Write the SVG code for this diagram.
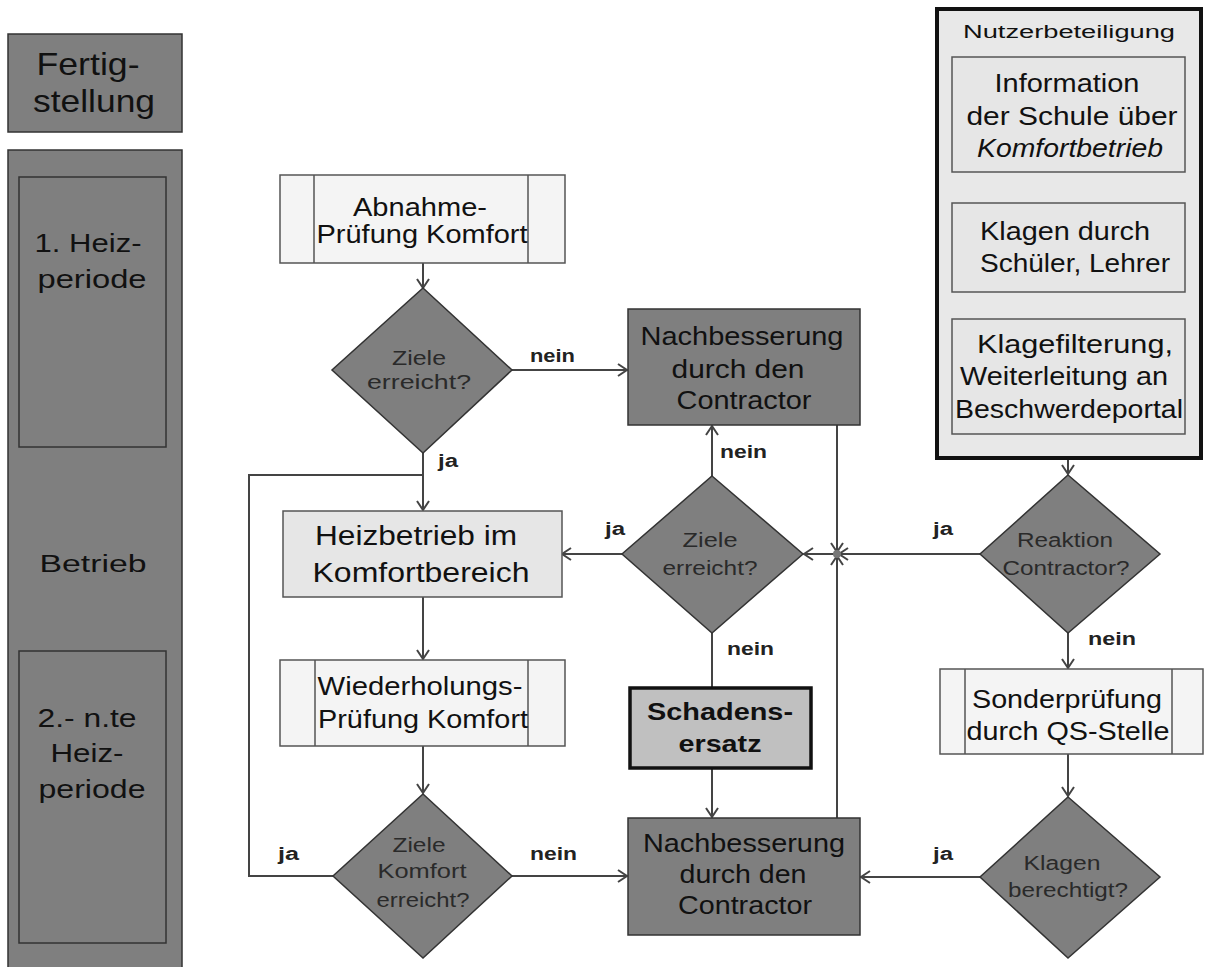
<svg xmlns="http://www.w3.org/2000/svg" width="1206" height="967" viewBox="0 0 1206 967">
<defs>
<style>
text{font-family:"Liberation Sans",Arial,sans-serif;fill:#111;text-anchor:middle}
.dk{fill:#7f7f7f;stroke:#333;stroke-width:1.5}
.lt{fill:#f4f4f4;stroke:#555;stroke-width:1.5}
.lg{fill:#e6e6e6;stroke:#555;stroke-width:1.5}
.ln{fill:none;stroke:#444;stroke-width:2}
.sep{stroke:#555;stroke-width:1.5}
.t26{font-size:26px}
.t25{font-size:25px}
.dt{font-size:20px;fill:#2a2a2a}
.lab{font-size:18px;font-weight:bold;fill:#222;text-anchor:start}
</style>
<marker id="ah" markerWidth="14" markerHeight="14" refX="11" refY="7" orient="auto" markerUnits="userSpaceOnUse">
<path d="M2,1 L11,7 L2,13" fill="none" stroke="#444" stroke-width="2"/>
</marker>
</defs>
<rect width="1206" height="967" fill="#fff"/>

<g id="fertigstellung">
<rect x="8" y="34" width="174" height="98" class="dk"/>
<text x="88" y="75" font-size="32" textLength="103" lengthAdjust="spacingAndGlyphs">Fertig-</text>
<text x="94" y="112" font-size="32" textLength="122" lengthAdjust="spacingAndGlyphs">stellung</text>
</g>
<g id="betrieb">
<rect x="8" y="150" width="174" height="830" class="dk"/>
<rect x="19" y="177" width="147" height="270" fill="none" stroke="#333" stroke-width="1.5"/>
<text x="88" y="252" font-size="26" textLength="107" lengthAdjust="spacingAndGlyphs">1. Heiz-</text>
<text x="92" y="288" font-size="26" textLength="109" lengthAdjust="spacingAndGlyphs">periode</text>
<text x="93" y="572" font-size="23" fill="#222" textLength="107" lengthAdjust="spacingAndGlyphs">Betrieb</text>
<rect x="19" y="651" width="147" height="292" fill="none" stroke="#333" stroke-width="1.5"/>
<text x="87" y="727" font-size="26" textLength="99" lengthAdjust="spacingAndGlyphs">2.- n.te</text>
<text x="87" y="762" font-size="26" textLength="73" lengthAdjust="spacingAndGlyphs">Heiz-</text>
<text x="92" y="798" font-size="26" textLength="107" lengthAdjust="spacingAndGlyphs">periode</text>
</g>

<g id="connectors">
<line x1="423" y1="263" x2="423" y2="288" class="ln" marker-end="url(#ah)"/>
<line x1="512" y1="370" x2="627" y2="370" class="ln" marker-end="url(#ah)"/>
<line x1="423" y1="453" x2="423" y2="510" class="ln" marker-end="url(#ah)"/>
<polyline points="333,876 249,876 249,475 423,475" class="ln"/>
<line x1="423" y1="597" x2="423" y2="659" class="ln" marker-end="url(#ah)"/>
<line x1="423" y1="746" x2="423" y2="793" class="ln" marker-end="url(#ah)"/>
<line x1="512" y1="876" x2="627" y2="876" class="ln" marker-end="url(#ah)"/>
<line x1="712" y1="476" x2="712" y2="426" class="ln" marker-end="url(#ah)"/>
<line x1="622" y1="554" x2="562" y2="554" class="ln" marker-end="url(#ah)"/>
<line x1="712" y1="633" x2="712" y2="688" class="ln"/>
<line x1="712" y1="768" x2="712" y2="817" class="ln" marker-end="url(#ah)"/>
<line x1="837" y1="425" x2="837" y2="552" class="ln" marker-end="url(#ah)"/>
<line x1="837" y1="818" x2="837" y2="556" class="ln" marker-end="url(#ah)"/>
<line x1="980" y1="554" x2="839" y2="554" class="ln" marker-end="url(#ah)"/>
<line x1="835" y1="554" x2="804" y2="554" class="ln" marker-end="url(#ah)"/>
<circle cx="837" cy="554" r="4" fill="#777"/>
<line x1="1068" y1="172" x2="1068" y2="202" class="ln" marker-end="url(#ah)"/>
<line x1="1068" y1="292" x2="1068" y2="318" class="ln" marker-end="url(#ah)"/>
<line x1="1068" y1="434" x2="1068" y2="474" class="ln" marker-end="url(#ah)"/>
<line x1="1068" y1="633" x2="1068" y2="668" class="ln" marker-end="url(#ah)"/>
<line x1="1068" y1="754" x2="1068" y2="796" class="ln" marker-end="url(#ah)"/>
<line x1="980" y1="877" x2="861" y2="877" class="ln" marker-end="url(#ah)"/>
<text x="530" y="362" class="lab" textLength="45" lengthAdjust="spacingAndGlyphs">nein</text>
<text x="438" y="467" class="lab" textLength="20" lengthAdjust="spacingAndGlyphs">ja</text>
<text x="605" y="535" class="lab" textLength="20" lengthAdjust="spacingAndGlyphs">ja</text>
<text x="720" y="458" class="lab" textLength="47" lengthAdjust="spacingAndGlyphs">nein</text>
<text x="727" y="655" class="lab" textLength="47" lengthAdjust="spacingAndGlyphs">nein</text>
<text x="933" y="535" class="lab" textLength="20" lengthAdjust="spacingAndGlyphs">ja</text>
<text x="1088" y="645" class="lab" textLength="48" lengthAdjust="spacingAndGlyphs">nein</text>
<text x="278" y="860" class="lab" textLength="21" lengthAdjust="spacingAndGlyphs">ja</text>
<text x="530" y="860" class="lab" textLength="47" lengthAdjust="spacingAndGlyphs">nein</text>
<text x="933" y="860" class="lab" textLength="20" lengthAdjust="spacingAndGlyphs">ja</text>
</g>

<g id="abnahme">
<rect x="280" y="175" width="285" height="88" class="lt"/>
<line x1="314" y1="175" x2="314" y2="263" class="sep"/>
<line x1="528" y1="175" x2="528" y2="263" class="sep"/>
<text x="420" y="216" class="t25" textLength="134" lengthAdjust="spacingAndGlyphs">Abnahme-</text>
<text x="422" y="243" class="t25" textLength="211" lengthAdjust="spacingAndGlyphs">Prüfung Komfort</text>
</g>
<g id="ziele1">
<polygon points="423,288 512,370 423,453 332,370" class="dk"/>
<text x="419" y="365" class="dt" textLength="54" lengthAdjust="spacingAndGlyphs">Ziele</text>
<text x="419" y="389" class="dt" textLength="104" lengthAdjust="spacingAndGlyphs">erreicht?</text>
</g>
<g id="nachbesserung1">
<rect x="628" y="309" width="232" height="116" class="dk"/>
<text x="742" y="345" class="t26" textLength="203" lengthAdjust="spacingAndGlyphs">Nachbesserung</text>
<text x="738" y="378" class="t26" textLength="133" lengthAdjust="spacingAndGlyphs">durch den</text>
<text x="744" y="409" class="t26" textLength="135" lengthAdjust="spacingAndGlyphs">Contractor</text>
</g>
<g id="heizbetrieb">
<rect x="283" y="511" width="279" height="86" class="lg"/>
<text x="416" y="545" font-size="27" textLength="202" lengthAdjust="spacingAndGlyphs">Heizbetrieb im</text>
<text x="421" y="582" font-size="27" textLength="217" lengthAdjust="spacingAndGlyphs">Komfortbereich</text>
</g>
<g id="wiederholung">
<rect x="280" y="660" width="285" height="86" class="lt"/>
<line x1="315" y1="660" x2="315" y2="746" class="sep"/>
<line x1="528" y1="660" x2="528" y2="746" class="sep"/>
<text x="420" y="695" class="t25" textLength="205" lengthAdjust="spacingAndGlyphs">Wiederholungs-</text>
<text x="423" y="728" class="t25" textLength="210" lengthAdjust="spacingAndGlyphs">Prüfung Komfort</text>
</g>
<g id="ziele3">
<polygon points="423,794 512,876 423,958 333,876" class="dk"/>
<text x="419" y="852" class="dt" textLength="53" lengthAdjust="spacingAndGlyphs">Ziele</text>
<text x="422" y="878" class="dt" textLength="89" lengthAdjust="spacingAndGlyphs">Komfort</text>
<text x="423" y="907" class="dt" textLength="93" lengthAdjust="spacingAndGlyphs">erreicht?</text>
</g>
<g id="ziele2">
<polygon points="712,476 803,554 712,633 622,554" class="dk"/>
<text x="710" y="547" class="dt" textLength="55" lengthAdjust="spacingAndGlyphs">Ziele</text>
<text x="710" y="575" class="dt" textLength="95" lengthAdjust="spacingAndGlyphs">erreicht?</text>
</g>
<g id="schadensersatz">
<rect x="630" y="688" width="181" height="80" fill="#c0c0c0" stroke="#111" stroke-width="3.5"/>
<text x="720" y="720" font-size="24" font-weight="bold" textLength="146" lengthAdjust="spacingAndGlyphs">Schadens-</text>
<text x="720" y="752" font-size="24" font-weight="bold" textLength="83" lengthAdjust="spacingAndGlyphs">ersatz</text>
</g>
<g id="nachbesserung2">
<rect x="628" y="818" width="232" height="117" class="dk"/>
<text x="744" y="852" class="t26" textLength="202" lengthAdjust="spacingAndGlyphs">Nachbesserung</text>
<text x="743" y="883" class="t26" textLength="127" lengthAdjust="spacingAndGlyphs">durch den</text>
<text x="745" y="914" class="t26" textLength="134" lengthAdjust="spacingAndGlyphs">Contractor</text>
</g>
<g id="nutzerbeteiligung">
<rect x="937" y="9" width="264" height="449" fill="#e8e8e8" stroke="#111" stroke-width="4"/>
<text x="1069" y="38" font-size="18" textLength="212" lengthAdjust="spacingAndGlyphs">Nutzerbeteiligung</text>
</g>
<g id="information">
<rect x="952" y="57" width="233" height="115" class="lg"/>
<text x="1067" y="92" class="t26" textLength="145" lengthAdjust="spacingAndGlyphs">Information</text>
<text x="1072" y="125" class="t26" textLength="211" lengthAdjust="spacingAndGlyphs">der Schule über</text>
<text x="1070" y="157" class="t26" font-style="italic" textLength="186" lengthAdjust="spacingAndGlyphs">Komfortbetrieb</text>
</g>
<g id="klagen">
<rect x="952" y="203" width="233" height="89" class="lg"/>
<text x="1065" y="240" class="t26" textLength="170" lengthAdjust="spacingAndGlyphs">Klagen durch</text>
<text x="1075" y="272" class="t26" textLength="190" lengthAdjust="spacingAndGlyphs">Schüler, Lehrer</text>
</g>
<g id="klagefilterung">
<rect x="952" y="319" width="233" height="115" class="lg"/>
<text x="1075" y="353" class="t26" textLength="196" lengthAdjust="spacingAndGlyphs">Klagefilterung,</text>
<text x="1064" y="385" class="t26" textLength="208" lengthAdjust="spacingAndGlyphs">Weiterleitung an</text>
<text x="1069" y="418" class="t26" textLength="228" lengthAdjust="spacingAndGlyphs">Beschwerdeportal</text>
</g>
<g id="reaktion">
<polygon points="1068,475 1160,554 1068,633 980,554" class="dk"/>
<text x="1065" y="547" class="dt" textLength="96" lengthAdjust="spacingAndGlyphs">Reaktion</text>
<text x="1066" y="575" class="dt" textLength="127" lengthAdjust="spacingAndGlyphs">Contractor?</text>
</g>
<g id="sonderpruefung">
<rect x="940" y="669" width="263" height="85" class="lt"/>
<line x1="965" y1="669" x2="965" y2="754" class="sep"/>
<line x1="1172" y1="669" x2="1172" y2="754" class="sep"/>
<text x="1067" y="708" class="t26" textLength="190" lengthAdjust="spacingAndGlyphs">Sonderprüfung</text>
<text x="1068" y="740" class="t26" textLength="203" lengthAdjust="spacingAndGlyphs">durch QS-Stelle</text>
</g>
<g id="klagenberechtigt">
<polygon points="1068,797 1160,877 1068,958 980,877" class="dk"/>
<text x="1062" y="870" class="dt" textLength="77" lengthAdjust="spacingAndGlyphs">Klagen</text>
<text x="1068" y="897" class="dt" textLength="120" lengthAdjust="spacingAndGlyphs">berechtigt?</text>
</g>
</svg>
